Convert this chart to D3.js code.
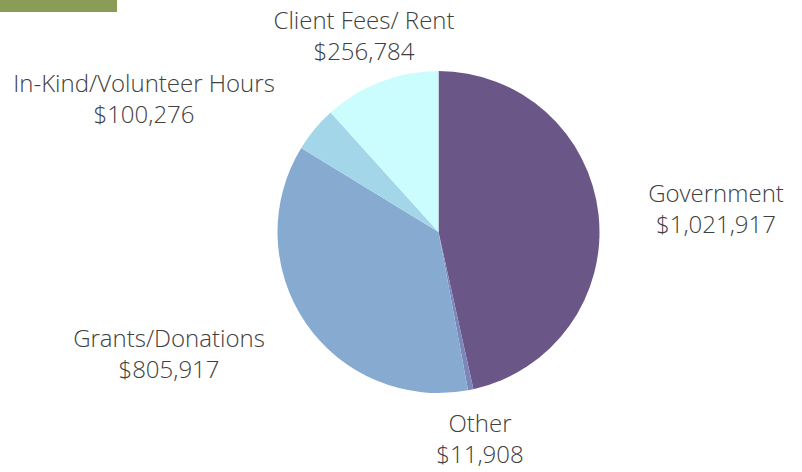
<!DOCTYPE html>
<html>
<head>
<meta charset="utf-8">
<script src="https://cdn.jsdelivr.net/npm/d3@7"></script>
<style>
  body { margin: 0; background: #fff; }
  text { font-family: "Open Sans", sans-serif; font-weight: 300; fill: #404040; }
</style>
</head>
<body>
<div id="chart"></div>
<script>
const categories = ["Government", "Other", "Grants/Donations", "In-Kind/Volunteer Hours", "Client Fees/ Rent"];
const values = [1021917, 11908, 805917, 100276, 256784];
const colors = ["#6a5687", "#7b86bb", "#87abd0", "#a3d6e8", "#ccfdfe"];

// where each label sits (centre x, first baseline), like the original layout
const labelAt = [[716, 202], [480, 432], [169, 347], [144, 92], [364, 29]];

function create_pie(targetElementId){
    const width = 802, height = 472;
    const cx = 438.5, cy = 232, r = 161;

    const svg = d3.select(`#${targetElementId}`).append("svg")
        .attr("width", width)
        .attr("height", height);

    // green tab top-left
    svg.append("rect")
        .attr("x", 0).attr("y", 0)
        .attr("width", 117).attr("height", 12)
        .attr("fill", "#8a9c55");

    const data = categories.map((c, i) => ({ name: c, value: values[i], color: colors[i], i: i }));

    const pie = d3.pie().value(d => d.value).sort(null);
    const arc = d3.arc().innerRadius(0).outerRadius(r);

    const g = svg.append("g").attr("transform", `translate(${cx},${cy})`);
    g.selectAll("path")
        .data(pie(data))
        .enter()
        .append("path")
        .attr("d", arc)
        .attr("fill", d => d.data.color);

    const fmt = d3.format(",");
    const labels = svg.selectAll(".lbl")
        .data(data)
        .enter()
        .append("text")
        .attr("class", "lbl")
        .attr("text-anchor", "middle")
        .style("font-size", "24px");
    labels.append("tspan")
        .attr("x", d => labelAt[d.i][0])
        .attr("y", d => labelAt[d.i][1])
        .text(d => d.name);
    labels.append("tspan")
        .attr("x", d => labelAt[d.i][0])
        .attr("y", d => labelAt[d.i][1] + 31)
        .text(d => "$" + fmt(d.value));
}

create_pie("chart");
</script>
</body>
</html>
